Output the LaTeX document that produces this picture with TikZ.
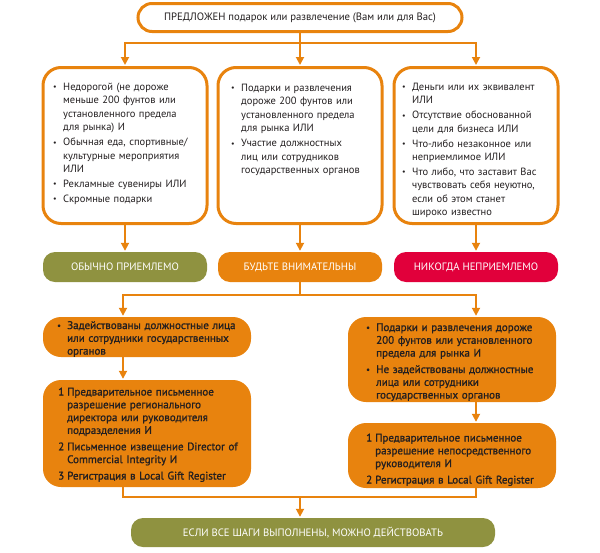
\documentclass[tikz,border=0pt]{standalone}
\usepackage{fontspec}
\setmainfont{PT Sans}
\newfontfamily\lof[FakeBold=1.2]{PT Sans}
\usetikzlibrary{arrows.meta,calc}
\definecolor{org}{HTML}{E8830E}
\definecolor{olv}{HTML}{8F9240}
\definecolor{crim}{HTML}{E1003B}
\definecolor{txt}{HTML}{231F20}
\newlength\itemgap
\newlength\mybls
\newcommand\bitem[1]{\par\noindent\makebox[10pt][l]{\raisebox{0.6pt}{\scalebox{0.75}{\textbullet}}}\parbox[t]{190pt}{\setlength\baselineskip{\mybls}\raggedright #1\rule[-4pt]{0pt}{1pt}}\par\prevdepth=4pt\vspace{\itemgap}}
\newcommand\nitem[2]{\par\noindent\makebox[9pt][l]{#1}\parbox[t]{190pt}{\setlength\baselineskip{\mybls}\raggedright #2\rule[-4pt]{0pt}{1pt}}\par\prevdepth=4pt\vspace{\itemgap}}
\tikzset{
  frame/.style={draw=org, line width=3pt, fill=white, inner sep=0pt},
  topbox/.style={frame, rounded corners=14pt, minimum width=324pt, minimum height=28pt, text=txt, font=\fontsize{10.7}{12}\selectfont},
  bigbox/.style={frame, rounded corners=18pt, minimum width=164pt, minimum height=156pt},
  pill/.style={rounded corners=12pt, inner sep=0pt, text=white, minimum height=30pt, font=\fontsize{10.7}{12}\selectfont},
  obox/.style={fill=org, rounded corners=18pt, inner sep=0pt, minimum width=208pt},
  uptext/.style={anchor=north west, inner sep=0pt, text width=200pt, align=left, text=txt, font=\fontsize{10.5}{13.5}\selectfont,
    execute at begin node={\setlength\baselineskip{13.5pt}\setlength\mybls{13.5pt}\setlength\itemgap{1.4pt}}},
  lotext/.style={anchor=north west, inner sep=0pt, text width=200pt, align=left, text=txt, font=\lof\fontsize{11}{12.8}\selectfont,
    execute at begin node={\setlength\baselineskip{12.8pt}\setlength\mybls{12.8pt}\setlength\itemgap{3.6pt}}},
  conn/.style={draw=org, line width=1.8pt},
  arr/.style={conn, -{Triangle[length=8pt,width=8pt]}, shorten >=1pt},
}
\begin{document}
\begin{tikzpicture}[x=1pt,y=-1pt]
\useasboundingbox (0,0) rectangle (600,552);
% boxes
\node[topbox] (top) at (300,17.5) {ПРЕДЛОЖЕН подарок или развлечение (Вам или для Вас)};
\node[bigbox] (b1) at (125,145.5) {};
\node[bigbox] (b2) at (300,145.5) {};
\node[bigbox] (b3) at (476,145.5) {};
\node[pill, fill=olv, minimum width=164pt] (p1) at (125,267) {ОБЫЧНО ПРИЕМЛЕМО};
\node[pill, fill=org, minimum width=164pt] (p2) at (300,267) {БУДЬТЕ ВНИМАТЕЛЬНЫ};
\node[pill, fill=crim, minimum width=164pt] (p3) at (476,267) {НИКОГДА НЕПРИЕМЛЕМО};
\node[obox, minimum height=40pt] (L1) at (147,337) {};
\node[obox, minimum height=107pt] (L2) at (147,433.5) {};
\node[obox, minimum height=85pt] (R1) at (452,359.5) {};
\node[obox, minimum height=65pt] (R2) at (452,455.5) {};
\node[pill, fill=olv, minimum width=364pt, minimum height=29pt] (fin) at (313,532.5) {ЕСЛИ ВСЕ ШАГИ ВЫПОЛНЕНЫ, МОЖНО ДЕЙСТВОВАТЬ};
% texts
\node[uptext] (t1) at (53,76.5) {%
\bitem{Недорогой (не дороже\\меньше 200 фунтов или\\установленного предела\\для рынка) И}%
\bitem{Обычная еда, спортивные/\\культурные мероприятия\\ИЛИ}%
\bitem{Рекламные сувениры ИЛИ}%
\bitem{Скромные подарки}};
\node[uptext] (t2) at (231,77.5) {%
\bitem{Подарки и развлечения\\дороже 200 фунтов или\\установленного предела\\для рынка ИЛИ}%
\bitem{Участие должностных\\лиц или сотрудников\\государственных органов}};
\node[uptext] (t3) at (402,76.5) {%
\bitem{Деньги или их эквивалент\\ИЛИ}%
\bitem{Отсутствие обоснованной\\цели для бизнеса ИЛИ}%
\bitem{Что-либо незаконное или\\неприемлимое ИЛИ}%
\bitem{Что либо, что заставит Вас\\чувствовать себя неуютно,\\если об этом станет\\широко известно}};
\node[lotext] (t4) at (57,316) {%
\bitem{Задействованы должностные лица\\или сотрудники государственных\\органов}};
\node[lotext] (t5) at (58,382.5) {%
\nitem{1}{Предварительное письменное\\разрешение регионального\\директора или руководителя\\подразделения И}%
\nitem{2}{Письменное извещение Director of\\Commercial Integrity И}%
\nitem{3}{Регистрация в Local Gift Register}};
\node[lotext] (t6) at (366,318) {%
\bitem{Подарки и развлечения дороже\\200 фунтов или установленного\\предела для рынка И}%
\bitem{Не задействованы должностные\\лица или сотрудники\\государственных органов}};
\node[lotext] (t7) at (366,428.5) {%
\nitem{1}{Предварительное письменное\\разрешение непосредственного\\руководителя И}%
\nitem{2}{Регистрация в Local Gift Register}};
% connectors
\coordinate (j1) at (300,43);
\coordinate (j2) at (300,295);
\coordinate (j3) at (300,497);
\draw[conn] (top.south) -- (j1);
\draw[arr] (j1) -| (b1.north);
\draw[arr] (j1) -- (b2.north);
\draw[arr] (j1) -| (b3.north);
\draw[arr] (b1.south) -- (p1.north);
\draw[arr] (b2.south) -- (p2.north);
\draw[arr] (b3.south) -- (p3.north);
\draw[conn] (p2.south) -- (j2);
\draw[arr] (j2) -| ([xshift=-24pt]L1.north);
\draw[arr] (j2) -| ([xshift=24pt]R1.north);
\draw[arr] ([xshift=-24pt]L1.south) -- ([xshift=-24pt]L2.north);
\draw[arr] ([xshift=24pt]R1.south) -- ([xshift=24pt]R2.north);
\draw[conn] ([xshift=-24pt]L2.south) |- (j3) -| ([xshift=24pt]R2.south);
\draw[arr] (j3) -- (j3 |- fin.north);
\end{tikzpicture}
\end{document}
